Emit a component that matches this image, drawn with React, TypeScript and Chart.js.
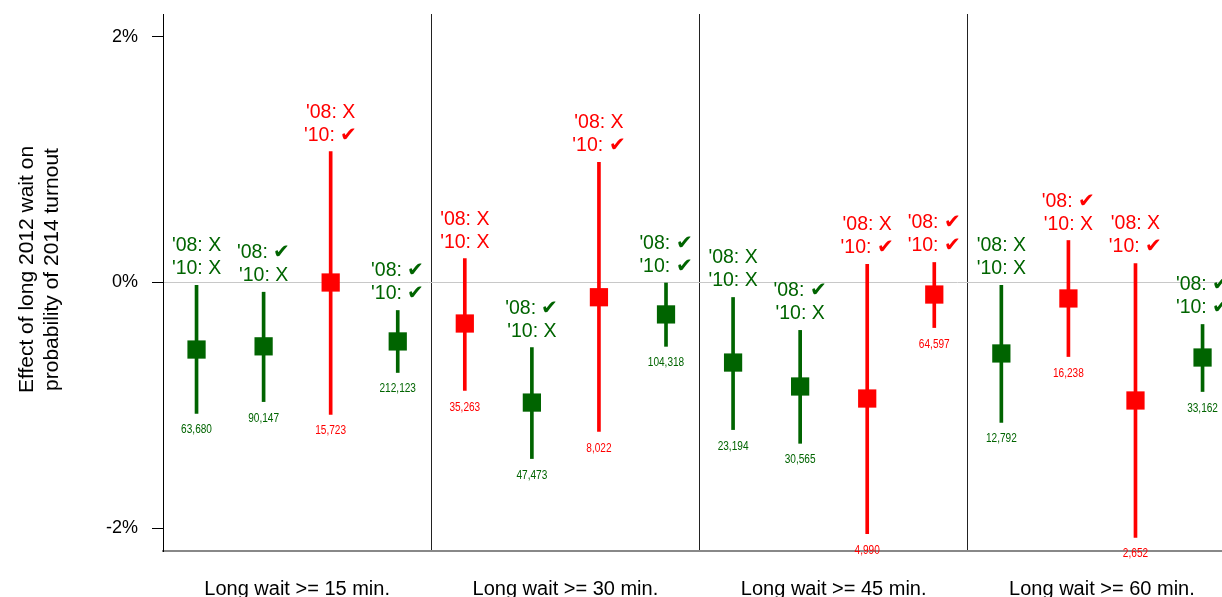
import React, { useEffect, useRef } from "react";
import { Chart, registerables } from "chart.js";

Chart.register(...registerables);

// ---- Data ----
const categories = [
  "Long wait >= 15 min.",
  "Long wait >= 30 min.",
  "Long wait >= 45 min.",
  "Long wait >= 60 min.",
];
const groupsPerCategory = 4;

// Point estimates (%), 4 per category
const estimates = [
  -0.546, -0.52, 0.0, -0.48,
  -0.334, -0.978, -0.12, -0.26,
  -0.652, -0.847, -0.945, -0.098,
  -0.578, -0.13, -0.961, -0.611,
];
const ciLow = [
  -1.067, -0.97, -1.075, -0.733,
  -0.88, -1.434, -1.214, -0.52,
  -1.198, -1.31, -2.045, -0.367,
  -1.14, -0.603, -2.077, -0.888,
];
const ciHigh = [
  -0.024, -0.079, 1.067, -0.228,
  0.195, -0.53, 0.978, -0.004,
  -0.122, -0.39, 0.147, 0.163,
  -0.024, 0.342, 0.155, -0.342,
];
const voted08 = [
  false, true, false, true,
  false, true, false, true,
  false, true, false, true,
  false, true, false, true,
];
const voted10 = [
  false, false, true, true,
  false, false, true, true,
  false, false, true, true,
  false, false, true, true,
];
const crossesZero = [
  false, false, true, false,
  true, false, true, false,
  false, false, true, true,
  false, true, true, false,
];
const sampleSizes = [
  63680, 90147, 15723, 212123,
  35263, 47473, 8022, 104318,
  23194, 30565, 4990, 64597,
  12792, 16238, 2652, 33162,
];
const yTickValues = [-2, 0, 2];
const yTitleLines = ["Effect of long 2012 wait on", "probability of 2014 turnout"];

const GREEN = "#006400";
const RED = "#ff0000";
const CHECK = "\u2714";
const FONT = '"Liberation Sans", Arial, Helvetica, sans-serif';

const colors = crossesZero.map((c) => (c ? RED : GREEN));
const xOf = (i: number) => i + 0.5;

const labelPlugin = {
  id: "errorLabels",
  afterDatasetsDraw(chart: any) {
    const { ctx, scales } = chart;
    const x = scales.x;
    const y = scales.y;
    ctx.save();
    ctx.textAlign = "center";
    ctx.textBaseline = "alphabetic";
    estimates.forEach((_, i) => {
      const px = x.getPixelForValue(xOf(i));
      const top = y.getPixelForValue(ciHigh[i]);
      const bot = y.getPixelForValue(ciLow[i]);
      ctx.fillStyle = colors[i];
      ctx.font = `19.5px ${FONT}`;
      ctx.fillText(`'08: ${voted08[i] ? CHECK : "X"}`, px, top - 34);
      ctx.fillText(`'10: ${voted10[i] ? CHECK : "X"}`, px, top - 11);
      // condensed sample-size label
      ctx.save();
      ctx.font = `12px ${FONT}`;
      ctx.translate(px, bot + 20);
      ctx.scale(0.84, 1);
      ctx.fillText(sampleSizes[i].toLocaleString("en-US"), 0, 0);
      ctx.restore();
    });
    ctx.restore();
  },
  afterDraw(chart: any) {
    const { ctx, chartArea } = chart;
    ctx.save();
    ctx.fillStyle = "#000";
    ctx.font = `21px ${FONT}`;
    ctx.textAlign = "center";
    ctx.textBaseline = "alphabetic";
    const cy = (chartArea.top + chartArea.bottom) / 2 - 13;
    yTitleLines.forEach((line, k) => {
      ctx.save();
      ctx.translate(33 + k * 25, cy);
      ctx.rotate(-Math.PI / 2);
      ctx.fillText(line, 0, 0);
      ctx.restore();
    });
    ctx.restore();
  },
};

export default function App() {
  const canvasRef = useRef<HTMLCanvasElement | null>(null);

  useEffect(() => {
    if (!canvasRef.current) return;
    const nSlots = categories.length * groupsPerCategory;
    const chart = new Chart(canvasRef.current, {
      type: "scatter",
      data: {
        datasets: [
          {
            type: "scatter",
            data: estimates.map((v, i) => ({ x: xOf(i), y: v })),
            pointStyle: "rect",
            pointRadius: 12.9,
            pointHoverRadius: 12.9,
            backgroundColor: colors,
            borderWidth: 0,
            order: 0,
          } as any,
          {
            type: "bar",
            data: estimates.map((_, i) => ({ x: xOf(i), y: [ciLow[i], ciHigh[i]] })),
            backgroundColor: colors,
            barThickness: 3,
            borderWidth: 0,
            grouped: false,
            order: 1,
          } as any,
        ],
      },
      options: {
        animation: false,
        responsive: false,
        layout: { autoPadding: false, padding: { top: 14, left: 0, right: 0, bottom: 0 } },
        plugins: {
          legend: { display: false },
          tooltip: { enabled: false },
        },
        scales: {
          x: {
            type: "linear",
            min: 0,
            max: nSlots - 0.21,
            offset: false,
            z: 1,
            afterBuildTicks: (s: any) => {
              const t: any[] = [];
              categories.forEach((_, c) => {
                t.push({ value: c * groupsPerCategory + groupsPerCategory / 2 });
                if (c < categories.length - 1) t.push({ value: (c + 1) * groupsPerCategory });
              });
              s.ticks = t;
            },
            afterFit: (s: any) => {
              s.height = 46;
              s.paddingLeft = 0;
              s.paddingRight = 0;
            },
            grid: {
              offset: false,
              color: (c: any) =>
                c.tick && c.tick.value % groupsPerCategory === 0 ? "#222" : "rgba(0,0,0,0)",
              drawTicks: false,
              lineWidth: 1,
            },
            border: { color: "#888", width: 2 },
            ticks: {
              autoSkip: false,
              maxRotation: 0,
              padding: 26,
              color: "#000",
              font: { size: 20, family: FONT },
              callback: (v: any) => {
                const n = Number(v);
                if (n % groupsPerCategory === 0) return "";
                return categories[Math.floor(n / groupsPerCategory)] ?? "";
              },
            },
          },
          y: {
            type: "linear",
            min: -2.187,
            max: 2.187,
            afterBuildTicks: (s: any) => {
              s.ticks = yTickValues.map((v) => ({ value: v }));
            },
            afterFit: (s: any) => {
              s.width = 163;
              s.paddingTop = 0;
              s.paddingBottom = 0;
            },
            grid: {
              color: (c: any) => (c.tick && c.tick.value === 0 ? "#c8c8c8" : "rgba(0,0,0,0)"),
              tickColor: "#000",
              tickLength: 11,
              drawTicks: true,
              lineWidth: 1,
            },
            border: { color: "#000", width: 1 },
            ticks: {
              padding: 14,
              color: "#000",
              font: { size: 18, family: FONT },
              callback: (v: any) => `${v}%`,
            },
          },
        },
      } as any,
      plugins: [labelPlugin],
    });
    return () => chart.destroy();
  }, []);

  return (
    <div
      style={{
        position: "fixed",
        left: 0,
        top: 0,
        width: 1222,
        height: 597,
        background: "#fff",
        overflow: "hidden",
      }}
    >
      <canvas ref={canvasRef} width={1222} height={597} style={{ display: "block" }} />
    </div>
  );
}
